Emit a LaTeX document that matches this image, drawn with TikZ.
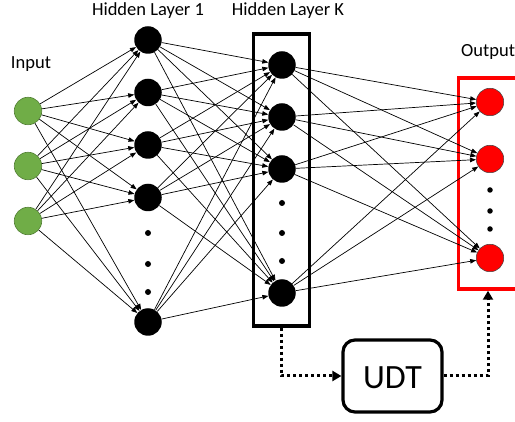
\documentclass[tikz,border=0pt]{standalone}
\usepackage{fontspec}
\setmainfont{Carlito}
\usetikzlibrary{arrows.meta}
\definecolor{ingreen}{RGB}{112,173,71}
\definecolor{ingreenD}{RGB}{80,126,50}
\begin{document}
\begin{tikzpicture}[x=1pt,y=-1pt,
  neuron/.style={circle,minimum size=27.5pt,inner sep=0pt},
  inp/.style={neuron,fill=ingreen,draw=ingreenD,line width=0.6pt},
  hid/.style={neuron,fill=black},
  outn/.style={neuron,fill=red,draw=black!75,line width=0.5pt},
  vdot/.style={circle,fill=black,minimum size=6pt,inner sep=0pt},
  conn/.style={line width=0.7pt,-{Triangle[length=6pt,width=4.5pt]}},
  lbl/.style={font=\fontsize{18.5}{22}\selectfont,inner sep=0pt,anchor=base},
  dotline/.style={line width=3pt,dash pattern=on 3pt off 3pt,-{Triangle[length=9pt,width=10pt]}},
]
\useasboundingbox (0,0) rectangle (515,422);
% boxes
\node[draw,line width=3.5pt,minimum width=56pt,minimum height=292pt,inner sep=0pt] (boxK) at (281.5,180) {};
\node[draw=red,line width=3.5pt,minimum width=59pt,minimum height=211pt,inner sep=0pt] (boxO) at (488,183.5) {};
\node[draw,line width=3.2pt,rounded corners=12pt,minimum width=99pt,minimum height=72pt,inner sep=0pt] (udt) at (392.5,376) {};
\node[font=\fontsize{34}{40}\selectfont,inner sep=0pt,anchor=base] (udtt) at (392.5,388.5) {UDT};
% labels
\node[lbl] (lin) at (31,68.5) {Input};
\node[lbl] (lh1) at (148,15.5) {Hidden Layer 1};
\node[lbl] (lhk) at (288,15.5) {Hidden Layer K};
\node[lbl,anchor=base west] (lout) at (461,57) {Output};
% input
\foreach \i/\y in {1/111,2/166,3/221} \node[inp] (i\i) at (28,\y) {};
% hidden 1
\foreach \i/\y in {1/40,2/92.5,3/145,4/197.5,5/322} \node[hid] (a\i) at (148,\y) {};
\foreach \i/\y in {1/233,2/264,3/292} \node[vdot] (ad\i) at (148,\y) {};
% hidden K
\foreach \i/\y in {1/65,2/117,3/169,4/293} \node[hid] (k\i) at (282,\y) {};
\foreach \i/\y in {1/203,2/233,3/261} \node[vdot] (kd\i) at (282,\y) {};
% output
\foreach \i/\y in {1/102,2/159,3/258} \node[outn] (o\i) at (490,\y) {};
\foreach \i/\y in {1/190,2/211,3/229} \node[vdot,minimum size=5.5pt] (od\i) at (490,\y) {};
% connections
\foreach \s in {1,2,3} \foreach \t in {1,...,5} \draw[conn] (i\s) -- (a\t);
\foreach \s in {1,...,5} \foreach \t in {1,...,4} \draw[conn] (a\s) -- (k\t);
\foreach \s in {1,...,4} \foreach \t in {1,2,3} \draw[conn] (k\s) -- (o\t);
% UDT feedback
\draw[dotline] (boxK.south) |- (udt.west);
\draw[dotline] (udt.east) -| (boxO.south);
\end{tikzpicture}
\end{document}
